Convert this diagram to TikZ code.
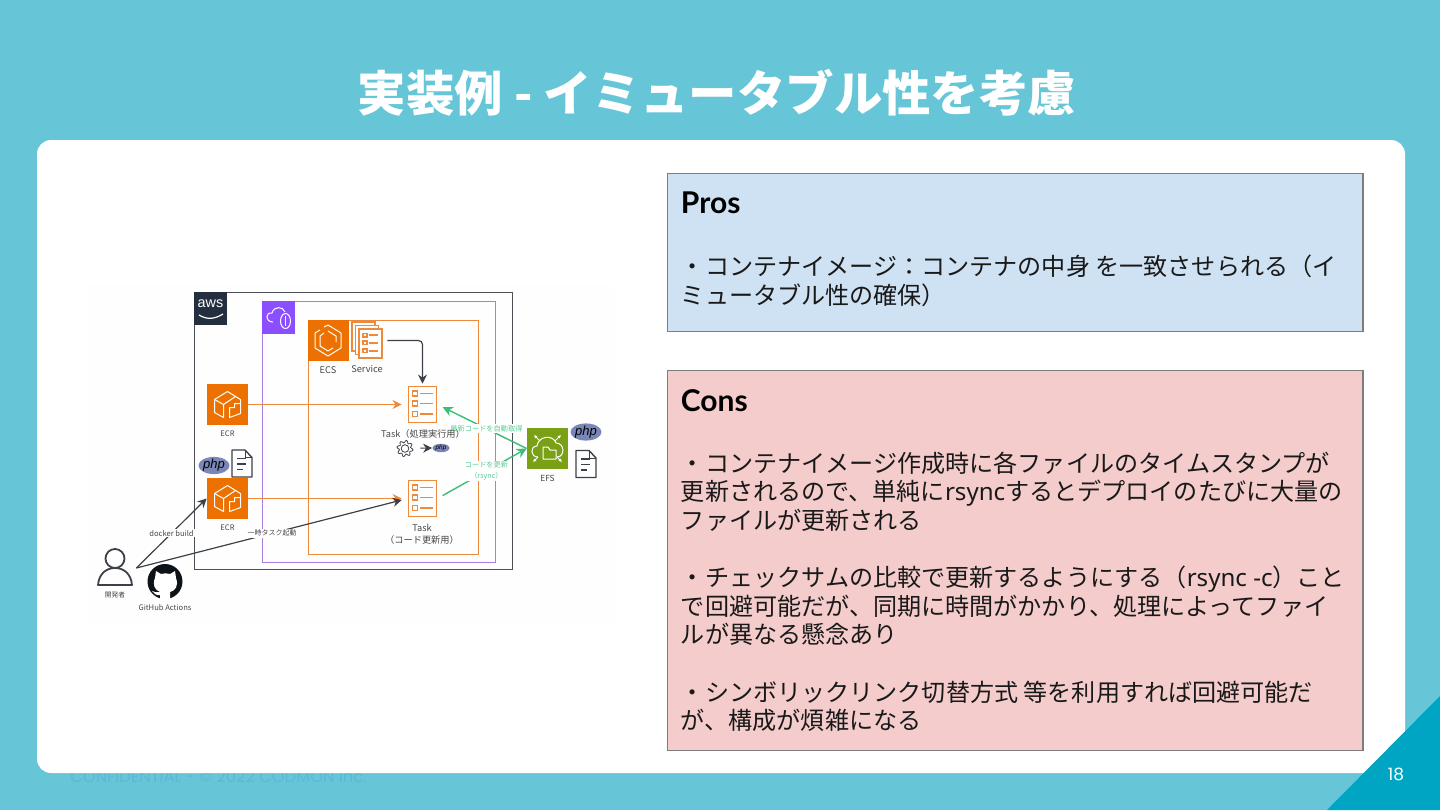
\documentclass[tikz,border=0pt]{standalone}
\usepackage{fontspec}
\setmainfont{Noto Sans CJK JP}
\newfontfamily\logofont{Liberation Sans}
\newfontfamily\headfont{Lato}
\newfontfamily\footfont{Poppins}
\newfontfamily\latinfont{Noto Sans}
\usetikzlibrary{
  arrows.meta,
  positioning,
  shapes.geometric
}
\definecolor{SlideBlue}{RGB}{103,197,216}
\definecolor{CornerBlue}{RGB}{0,165,196}
\definecolor{FootBlue}{RGB}{88,186,212}
\definecolor{ProsBlue}{RGB}{207,226,243}
\definecolor{ConsRed}{RGB}{244,204,204}
\definecolor{BoxGray}{RGB}{125,125,125}
\definecolor{PaperGray}{RGB}{254,254,254}
\definecolor{AwsDark}{RGB}{35,47,62}
\definecolor{LineDark}{RGB}{60,64,72}
\definecolor{GroupDark}{RGB}{75,79,86}
\definecolor{VpcPurple}{RGB}{140,79,255}
\definecolor{VpcLine}{RGB}{170,125,225}
\definecolor{EcsOrange}{RGB}{237,113,0}
\definecolor{TaskOrange}{RGB}{238,138,60}
\definecolor{EfsGreen}{RGB}{122,161,22}
\definecolor{ArrowGreen}{RGB}{60,190,120}
\definecolor{LabelGreen}{RGB}{90,205,145}
\definecolor{PhpBlue}{RGB}{122,134,184}
\definecolor{LabelGray}{RGB}{70,70,70}
\tikzset{
  infobox/.style={draw=BoxGray,line width=0.8pt,minimum width=347.75pt,anchor=north west},
  infotext/.style={anchor=north west,inner sep=0pt,align=left,text=black!90,font=\fontsize{12.05}{14.3}\selectfont},
  infohead/.style={anchor=west,inner sep=0pt,font=\fontsize{15}{16}\selectfont\headfont\bfseries},
  groupbox/.style={line width=0.62pt,anchor=north west,inner sep=0pt},
  iconbox/.style={minimum width=20.5pt,minimum height=20.5pt,inner sep=0pt},
  tasknode/.style={draw=TaskOrange,line width=0.9pt,minimum width=14pt,minimum height=18pt,inner sep=0pt},
  plainnode/.style={minimum width=10pt,minimum height=10pt,inner sep=0pt},
  smalllabel/.style={inner sep=0.5pt,text=LabelGray,align=center,font=\fontsize{3.8}{5}\selectfont},
  tasklabel/.style={inner sep=0pt,text=LabelGray,align=center,font=\fontsize{4.6}{6}\selectfont},
  flowlabel/.style={fill=white,inner sep=0.6pt,align=center,font=\fontsize{3.6}{5.2}\selectfont},
  phpnode/.style={ellipse,fill=PhpBlue,inner sep=0pt,text=black,font=\logofont\itshape},
  iconline/.style={draw=white,line width=0.5pt,line join=round},
  orangearrow/.style={-{Stealth[length=4.5pt,width=4.5pt]},draw=TaskOrange,line width=0.75pt},
  darkarrow/.style={-{Stealth[length=4.5pt,width=4.5pt]},draw=LineDark,line width=0.6pt},
  greenarrow/.style={-{Stealth[length=5pt,width=5pt]},draw=ArrowGreen,line width=0.7pt},
  docicon/.pic={
    \draw[LineDark,line width=0.7pt,fill=white,line join=round] (-10,-13.5) -- (3,-13.5) -- (10,-6) -- (10,13.5) -- (-10,13.5) -- cycle;
    \draw[LineDark,line width=0.5pt] (3,-13.5) -- (3,-6) -- (10,-6);
    \draw[LineDark,line width=0.6pt] (-5,-5) -- (4,-5) (-5,0.5) -- (4,0.5) (-5,6) -- (1,6);
  },
  tasklines/.pic={
    \foreach \rowy in {-11,-1,9.5}{
      \draw[TaskOrange,line width=0.75pt] (-10,\rowy-2.5) rectangle (-5,\rowy+2.5);
      \draw[TaskOrange,line width=0.9pt] (-2.5,\rowy) -- (10.5,\rowy);
    }
  }
}

\begin{document}
\begin{tikzpicture}[x=0.5pt,y=-0.5pt]
\useasboundingbox (0,0) rectangle (1440,810);
\fill[SlideBlue] (0,0) rectangle (1440,810);
\node[anchor=west,inner sep=0pt,text=FootBlue,font=\fontsize{8.15}{9}\selectfont\footfont] (foot) at (70,777) {CONFIDENTIAL - © 2022 CODMON Inc.};
\fill[white,rounded corners=7pt] (37,140) rectangle (1405,773);
\fill[CornerBlue] (1440,696) -- (1440,810) -- (1327,810) -- cycle;
\node[text=white,inner sep=0pt,font=\fontsize{8.5}{10}\selectfont\footfont] (page) at (1396,774) {18};
\node[text=white,inner sep=0pt,font=\fontsize{24.2}{28}\selectfont\bfseries] (title) at (717,93) {実装例 - イミュータブル性を考慮};

% right column
\node[infobox,fill=ProsBlue,minimum height=79pt] (pros) at (666.5,172.5) {};
\node[infohead] (proshead) at (680.5,203) {Pros};
\node[infotext] (prostext) at (680.5,254.5) {・コンテナイメージ：コンテナの中身 を一致させられる（イ\\ミュータブル性の確保）};

\node[infobox,fill=ConsRed,minimum height=190pt] (cons) at (666.5,369.5) {};
\node[infohead] (conshead) at (680.5,400.5) {Cons};
\node[infotext] (constext) at (680.5,451.5) {・コンテナイメージ作成時に各ファイルのタイムスタンプが\\更新されるので、単純に{\latinfont rsync}するとデプロイのたびに大量の\\ファイルが更新される\\[14.3pt]・チェックサムの比較で更新するようにする（{\latinfont rsync -c}）こと\\で回避可能だが、同期に時間がかかり、処理によってファイ\\ルが異なる懸念あり\\[14.3pt]・シンボリックリンク切替方式 等を利用すれば回避可能だ\\が、構成が煩雑になる};

% aws groups
\fill[PaperGray] (88,285) rectangle (615,626);
\node[groupbox,draw=GroupDark,minimum width=159pt,minimum height=138.5pt] (aws) at (194,292) {};
\node[groupbox,draw=VpcLine,minimum width=116.5pt,minimum height=130.5pt] (vpc) at (262,301) {};
\node[groupbox,draw=TaskOrange,minimum width=85pt,minimum height=117pt] (cluster) at (307.5,320) {};

\node[anchor=north west,fill=AwsDark,minimum width=16.5pt,minimum height=16.5pt,inner sep=0pt] (awslogo) at (194,292) {};
\node[text=white,inner sep=0pt,font=\fontsize{7.2}{8}\selectfont\logofont] (awstext) at (210.5,304) {aws};
\draw[white,line width=0.6pt] (199,315) .. controls (207,320) and (215,319) .. (223,314);
\node[anchor=north west,fill=VpcPurple,minimum width=16.5pt,minimum height=16.5pt,inner sep=0pt] (vpclogo) at (262,301) {};
\draw[iconline] (273,322) .. controls (265,322) and (265,312) .. (272,313) .. controls (274,306) and (283,306) .. (285,312);
\draw[iconline] (285.5,321) ellipse (5 and 7.5);
\draw[iconline] (285.5,316) -- (285.5,326);

% services
\node[iconbox,fill=EcsOrange] (ecs) at (328,340.5) {};
\draw[iconline] (324,327) -- (328,325) -- (341,333) -- (341,348) -- (328,356) -- (315,348) -- (315,333) -- (320,330);
\draw[iconline] (328,331) -- (336,336) -- (336,342) (333,348) -- (328,351) -- (320,346) -- (320,336) -- (324,333);
\node[tasklabel,below=2.5pt of ecs] (ecslabel) {ECS};

\node[plainnode,minimum width=15pt,minimum height=18.5pt] (service) at (367,340.5) {};
\foreach \stackx/\stacky in {352/322,355.5/325.5}{
  \draw[TaskOrange,line width=0.75pt,fill=white] (\stackx,\stacky) rectangle ++(23,29);
}
\node[tasknode,fill=white,minimum width=11.5pt,minimum height=14.5pt] (servicefront) at (370.5,343.5) {};
\pic[scale=0.75] at (servicefront) {tasklines};
\node[tasklabel] (servicelabel) at (367,369) {Service};

\node[iconbox,fill=EcsOrange] (ecrA) at (227.5,404.5) {};
\node[iconbox,fill=EcsOrange] (ecrB) at (227.5,498.5) {};
\foreach \ecrname in {ecrA,ecrB}{
  \begin{scope}[shift={(\ecrname)}]
    \draw[iconline] (-4,13) -- (-13,8) -- (-13,-5) -- (0,-13) -- (13,-5) -- (13,-1);
    \draw[iconline] (-13,-5) -- (-4,0) -- (-4,13) (-4,0) -- (8,-8);
    \draw[iconline] (2,13) -- (2,3) -- (7,3) -- (7,-1) -- (13,-1) -- (13,9) -- cycle;
  \end{scope}
}
\node[smalllabel,below=2pt of ecrA] (ecrAlabel) {ECR};
\node[smalllabel,below=2pt of ecrB] (ecrBlabel) {ECR};

\node[tasknode] (taskA) at (422.5,404.5) {};
\pic at (taskA) {tasklines};
\node[tasknode] (taskB) at (422.5,498.5) {};
\pic at (taskB) {tasklines};
\node[tasklabel] (taskBlabel) at (422,534) {Task\\（コード更新用）};

\node[plainnode,minimum width=7pt,minimum height=7pt] (gear) at (405,448.5) {};
\begin{scope}[shift={(gear)}]
  \draw[LineDark,line width=0.4pt] plot[domain=0:360,samples=97,smooth] (\x:{6.9+1.2*sin(8*\x)});
  \draw[LineDark,line width=0.4pt] (0,0) circle (3.8);
\end{scope}
\node[phpnode,minimum width=8.5pt,minimum height=4.2pt,font=\fontsize{3.2}{3.2}\selectfont\logofont\itshape] (phpC) at (441,448) {php};

\node[iconbox,fill=EfsGreen] (efs) at (547.5,448.5) {};
\draw[iconline] (538,457) .. controls (530,457) and (530,446) .. (537,446) .. controls (538,436) and (553,434) .. (556,443) .. controls (565,443) and (565,457) .. (557,457);
\draw[iconline,fill=EfsGreen] (543,447) -- (548,447) -- (550,450) -- (556,450) -- (556,459) -- (543,459) -- cycle;
\draw[white,line width=0.4pt,-{Latex[length=1.6pt,width=1.6pt]}] (540,441) -- (534,435);
\draw[white,line width=0.4pt,-{Latex[length=1.6pt,width=1.6pt]}] (555,441) -- (561,435);
\draw[white,line width=0.4pt,-{Latex[length=1.6pt,width=1.6pt]}] (538,457) -- (533,462);
\draw[white,line width=0.4pt,-{Latex[length=1.6pt,width=1.6pt]}] (557,457) -- (562,462);
\node[smalllabel,font=\fontsize{4.2}{5}\selectfont,below=2pt of efs] (efslabel) {EFS};

\node[phpnode,minimum width=15.5pt,minimum height=8.5pt,font=\fontsize{6.5}{7}\selectfont\logofont\itshape] (phpA) at (214,465.5) {php};
\pic at (242,463.5) {docicon};
\node[phpnode,minimum width=15.5pt,minimum height=8.5pt,font=\fontsize{6.5}{7}\selectfont\logofont\itshape] (phpB) at (586,432) {php};
\pic at (586,464) {docicon};

% people
\node[plainnode,minimum width=21pt,minimum height=20pt] (dev) at (115,568) {};
\draw[LineDark,line width=0.9pt] (115,558.5) circle (9.5);
\draw[LineDark,line width=0.9pt,line join=round] (98,585) .. controls (99,573) and (107,568) .. (115,568) .. controls (123,568) and (131,573) .. (132,585) -- cycle;
\node[smalllabel,font=\fontsize{3.4}{4}\selectfont] (devlabel) at (115,595) {開発者};

\node[plainnode,minimum width=17pt,minimum height=17pt] (github) at (165,581.5) {};
\fill[AwsDark!40!black] (github) circle (17.5);
\fill[white] (156,571) -- (161,574) .. controls (164,573) and (167,573) .. (170,574) -- (175,571) -- (176,578) .. controls (179,586) and (175,591) .. (170,592) -- (170,599) -- (160,599) -- (160,595) .. controls (156,596) and (154,593) .. (152,591) .. controls (155,592) and (157,593) .. (160,592) .. controls (155,590) and (152,585) .. (155,578) -- cycle;
\node[smalllabel] (githublabel) at (165,608) {GitHub Actions};

% connectors
\draw[orangearrow,shorten >=3pt] (ecrA) -- (taskA);
\draw[orangearrow,shorten >=3pt] (ecrB) -- (taskB);
\draw[darkarrow,rounded corners=2pt,shorten <=2.5pt,shorten >=1pt] (service.east) -| (taskA.north);
\draw[darkarrow] (dev.east) -- node[smalllabel,fill=white,pos=0.5] {docker build} (ecrB.west);
\draw[darkarrow,shorten >=3pt] (dev.east) -- node[smalllabel,fill=white,pos=0.5,font=\fontsize{3.5}{5}\selectfont] {一時タスク起動} (taskB.west);
\draw[darkarrow,line width=0.5pt,shorten <=4pt] (gear) -- (phpC.west);
\draw[greenarrow,shorten >=3pt] (efs.west) -- node[flowlabel,text=LabelGreen,pos=0.45] {最新コードを自動取得} (taskA.east);
\draw[greenarrow,shorten <=3pt] (taskB.east) -- node[flowlabel,text=LabelGreen,pos=0.55] {コードを更新\\（rsync）} (efs.west);
\node[tasklabel] (taskAlabel) at (423,434) {Task（処理実行用）};
\end{tikzpicture}
\end{document}
